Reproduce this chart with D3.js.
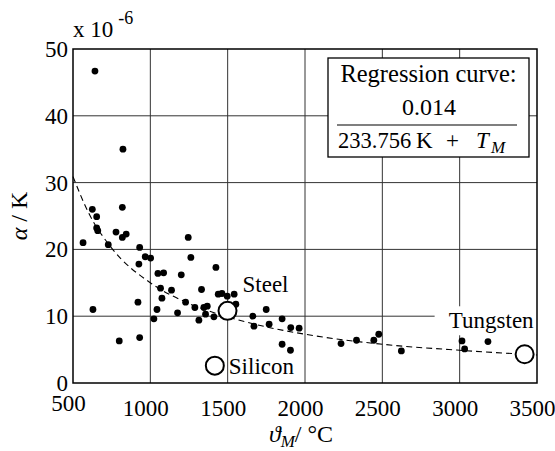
<!DOCTYPE html>
<html>
<head>
<meta charset="utf-8">
<script src="https://cdn.jsdelivr.net/npm/d3@7"></script>
<style>
    body { margin: 0; background: #fff; }
    svg, svg text { font-family: "Liberation Serif", "DejaVu Serif", serif; fill: #000; }
    .grid-line { stroke: #333; stroke-width: 1; }
</style>
</head>
<body>
<div id="chart"></div>
<script>
// melting temperature (°C) and expansion coefficient (x 1e-6 / K)
const meltTemps = [642, 823, 625, 819, 653, 653, 660, 565, 728, 778, 819, 844, 931, 926, 967, 1002,
    1245, 1262, 1049, 1086, 1200, 1424, 1066, 1137, 1075, 1331, 1439, 1463, 1497, 1542, 1553, 920,
    629, 1043, 1228, 1288, 1346, 1368, 1176, 1357, 1411, 1023, 1314, 799, 931, 1663, 1670, 1749,
    1768, 1852, 1908, 1962, 1852, 1906, 2233, 2333, 2445, 2477, 2623, 3015, 3032, 3183];
const alphas = [46.7, 35.0, 26.0, 26.3, 24.9, 23.2, 22.8, 21.0, 20.7, 22.6, 21.8, 22.3, 20.3, 17.8, 18.9, 18.7,
    21.8, 18.8, 16.4, 16.5, 16.2, 17.3, 14.2, 13.9, 12.7, 14.0, 13.3, 13.4, 13.0, 13.3, 11.8, 12.1,
    11.0, 11.0, 12.1, 11.3, 11.3, 11.5, 10.5, 10.3, 9.9, 9.6, 9.4, 6.3, 6.8, 10.0, 8.5, 11.0,
    8.8, 9.6, 8.3, 8.2, 5.8, 4.9, 5.9, 6.4, 6.4, 7.3, 4.8, 6.3, 5.1, 6.2];

// highlighted materials
const materials = ["Steel", "Silicon", "Tungsten"];
const materialTemps = [1499, 1417, 3420];
const materialAlphas = [10.8, 2.6, 4.3];

// regression curve, sampled from the dashed line
const curveTemps = [500, 600, 750, 1000, 1250, 1500, 1750, 2000, 2500, 3000, 3500];
const curveAlphas = [30.9, 25.5, 20.2, 15.0, 11.9, 9.9, 8.4, 7.3, 5.8, 4.9, 4.2];

const xTicks = [500, 1000, 1500, 2000, 2500, 3000, 3500];
const yTicks = [0, 10, 20, 30, 40, 50];

const margin = { top: 49, right: 18, bottom: 68, left: 73 };
const width = 555 - margin.left - margin.right,
    height = 451 - margin.top - margin.bottom;

const svg = d3.select("#chart").append("svg")
    .attr("width", 555)
    .attr("height", 451)
    .append("g")
    .attr("transform", "translate(" + margin.left + "," + margin.top + ")");

const x = d3.scaleLinear().domain([500, 3500]).range([0, width]);
const y = d3.scaleLinear().domain([0, 50]).range([height, 0]);

// grid
svg.append("g").selectAll("line")
    .data(xTicks.slice(1, -1))
    .enter().append("line")
    .attr("class", "grid-line")
    .attr("x1", d => x(d)).attr("x2", d => x(d))
    .attr("y1", 0).attr("y2", height);

svg.append("g").selectAll("line")
    .data(yTicks.slice(1, -1))
    .enter().append("line")
    .attr("class", "grid-line")
    .attr("x1", 0).attr("x2", width)
    .attr("y1", d => y(d)).attr("y2", d => y(d));

// axes (labels only, frame drawn below)
const xAxis = d3.axisBottom(x).tickValues(xTicks).tickFormat(d3.format("d")).tickSize(0).tickPadding(0);
const yAxis = d3.axisLeft(y).tickValues(yTicks).tickFormat(d3.format("d")).tickSize(0).tickPadding(5);

const xAxisElem = svg.append("g")
    .attr("transform", "translate(0," + height + ")")
    .call(xAxis)
    .attr("font-family", null);
xAxisElem.select(".domain").remove();
xAxisElem.selectAll("text")
    .attr("font-size", 23)
    .attr("dx", -5)
    .attr("y", d => d === 500 ? 12 : 17);

const yAxisElem = svg.append("g").call(yAxis).attr("font-family", null);
yAxisElem.select(".domain").remove();
yAxisElem.selectAll("text")
    .attr("font-size", 23)
    .attr("dy", "0.33em");

// regression curve
const line = d3.line()
    .x((d, i) => x(curveTemps[i]))
    .y(d => y(d))
    .curve(d3.curveMonotoneX);

svg.append("path")
    .datum(curveAlphas)
    .attr("d", line)
    .attr("fill", "none")
    .attr("stroke", "#000")
    .attr("stroke-width", 1.1)
    .attr("stroke-dasharray", "6,4");

// data points
svg.append("g").selectAll("circle")
    .data(meltTemps)
    .enter().append("circle")
    .attr("cx", d => x(d))
    .attr("cy", (d, i) => y(alphas[i]))
    .attr("r", 3.4)
    .attr("fill", "#000");

// Tungsten label has a white box behind it
const tx = x(materialTemps[2]), ty = y(materialAlphas[2]);
svg.append("rect")
    .attr("x", tx - 90).attr("y", ty - 48)
    .attr("width", width - (tx - 90)).attr("height", 29)
    .attr("fill", "#fff");

const labelOffsets = [[15, -19, "start"], [14, 8, "start"], [9, -26, "end"]];
svg.append("g").selectAll("text")
    .data(materials)
    .enter().append("text")
    .attr("x", (d, i) => x(materialTemps[i]) + labelOffsets[i][0])
    .attr("y", (d, i) => y(materialAlphas[i]) + labelOffsets[i][1])
    .attr("text-anchor", (d, i) => labelOffsets[i][2])
    .attr("font-size", 23)
    .text(d => d);

svg.append("g").selectAll("circle")
    .data(materials)
    .enter().append("circle")
    .attr("cx", (d, i) => x(materialTemps[i]))
    .attr("cy", (d, i) => y(materialAlphas[i]))
    .attr("r", 9)
    .attr("fill", "#fff")
    .attr("stroke", "#000")
    .attr("stroke-width", 2);

// frame
svg.append("rect")
    .attr("width", width).attr("height", height)
    .attr("fill", "none")
    .attr("stroke", "#000")
    .attr("stroke-width", 1.5);

// exponent
const expo = svg.append("text")
    .attr("x", 0).attr("y", -12)
    .attr("font-size", 23);
expo.append("tspan").text("x 10");
expo.append("tspan").attr("dx", 5).attr("dy", -13).attr("font-size", 18).text("-6");

// legend box
const box = svg.append("g").attr("transform", "translate(" + (328 - margin.left) + "," + (58 - margin.top) + ")");
box.append("rect")
    .attr("width", 201).attr("height", 99)
    .attr("fill", "#fff")
    .attr("stroke", "#000")
    .attr("stroke-width", 1.3);
box.append("text")
    .attr("x", 100.5).attr("y", 24)
    .attr("text-anchor", "middle")
    .attr("font-size", 24.5)
    .text("Regression curve:");
box.append("text")
    .attr("x", 101).attr("y", 57)
    .attr("text-anchor", "middle")
    .attr("font-size", 24)
    .text("0.014");
box.append("line")
    .attr("x1", 9).attr("x2", 189)
    .attr("y1", 67).attr("y2", 67)
    .attr("stroke", "#000").attr("stroke-width", 1.2);
const denom = box.append("text")
    .attr("y", 90)
    .attr("font-size", 23);
denom.append("tspan").attr("x", 10).attr("font-size", 22.5).text("233.756");
denom.append("tspan").attr("x", 88).text("K");
denom.append("tspan").attr("x", 118).text("+");
denom.append("tspan").attr("x", 148).attr("font-style", "italic").text("T");
denom.append("tspan").attr("x", 163).attr("font-style", "italic").attr("font-size", 17).attr("dy", 5).text("M");

// axis titles
const xTitle = svg.append("text")
    .attr("x", width / 2 - 4).attr("y", height + 59)
    .attr("text-anchor", "middle")
    .attr("font-size", 24);
xTitle.append("tspan").attr("font-style", "italic").text("\u03D1");
xTitle.append("tspan").attr("font-style", "italic").attr("font-size", 17).attr("dy", 5).text("M");
xTitle.append("tspan").attr("dy", -5).text("/ \u00B0C");

const yTitle = svg.append("text")
    .attr("transform", "translate(" + (-46) + "," + (height / 2) + ") rotate(-90)")
    .attr("text-anchor", "middle")
    .attr("font-size", 24);
yTitle.append("tspan").attr("font-style", "italic").text("\u03B1");
yTitle.append("tspan").text(" / K");
</script>
</body>
</html>
